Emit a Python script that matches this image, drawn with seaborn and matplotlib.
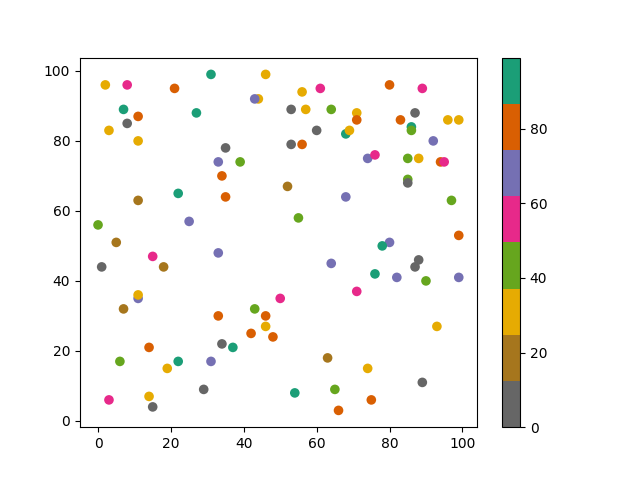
import numpy as np
import pandas as pd
import seaborn as sns
import matplotlib.pyplot as plt
import matplotlib as mpl

# points, c is the colour value (0-99)
x = [2, 8, 7, 8, 11, 3, 11, 21, 31, 27,
     46, 44, 43, 56, 61, 53, 57, 64, 60, 53,
     56, 35, 39, 33, 34, 22, 11, 25, 0, 5,
     15, 1, 18, 11, 11, 33, 35, 52, 55, 64,
     68, 50, 71, 68, 69, 71, 71, 80, 89, 83,
     87, 86, 86, 74, 76, 85, 88, 92, 96, 99,
     94, 95, 85, 85, 97, 99, 80, 78, 76, 82,
     88, 87, 90, 99, 93, 74, 75, 89, 63, 65,
     66, 54, 43, 46, 46, 48, 42, 33, 34, 37,
     31, 29, 22, 19, 14, 7, 6, 3, 14, 15]
y = [96, 96, 89, 85, 87, 83, 80, 95, 99, 88,
     99, 92, 92, 94, 95, 89, 89, 89, 83, 79,
     79, 78, 74, 74, 70, 65, 63, 57, 56, 51,
     47, 44, 44, 35, 36, 48, 64, 67, 58, 45,
     64, 35, 37, 82, 83, 88, 86, 96, 95, 86,
     88, 84, 83, 75, 76, 75, 75, 80, 86, 86,
     74, 74, 69, 68, 63, 53, 51, 50, 42, 41,
     46, 44, 40, 41, 27, 15, 6, 11, 18, 9,
     3, 8, 32, 30, 27, 24, 25, 30, 22, 21,
     17, 9, 17, 15, 21, 32, 17, 6, 7, 4]
c = [30, 55, 93, 5, 80, 30, 30, 80, 99, 93,
     30, 30, 68, 30, 55, 5, 30, 43, 5, 5,
     80, 5, 43, 68, 80, 93, 18, 68, 43, 18,
     55, 5, 18, 68, 30, 68, 80, 18, 43, 68,
     68, 55, 55, 93, 30, 30, 80, 80, 55, 80,
     5, 93, 43, 68, 55, 43, 30, 68, 30, 30,
     80, 55, 43, 5, 43, 80, 68, 93, 93, 68,
     5, 5, 43, 68, 30, 30, 80, 5, 18, 43,
     80, 93, 43, 80, 30, 80, 80, 80, 5, 93,
     68, 0, 93, 30, 80, 18, 43, 55, 30, 5]

df = pd.DataFrame({'x': x, 'y': y, 'c': c})
cmap = mpl.colormaps['Dark2_r']
norm = mpl.colors.Normalize(vmin=0, vmax=99)

fig, ax = plt.subplots(figsize=(6.4, 4.8), dpi=100)
sns.scatterplot(data=df, x='x', y='y', hue='c', palette=cmap, hue_norm=norm,
                legend=False, linewidth=0, s=48, ax=ax)
ax.set_xlabel('')
ax.set_ylabel('')
sm = mpl.cm.ScalarMappable(norm=norm, cmap=cmap)
fig.colorbar(sm, ax=ax)
plt.savefig('out.png')
